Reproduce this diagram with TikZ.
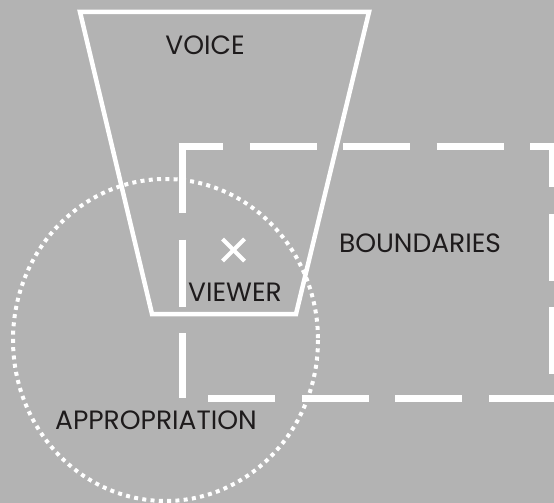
\documentclass[tikz,border=0pt]{standalone}
\usepackage{fontspec}
\setmainfont{Poppins}
\usepackage{tikz}

\definecolor{bggray}{RGB}{179,179,179}
\definecolor{inkdark}{RGB}{30,27,28}

\begin{document}
\begin{tikzpicture}[x=1pt,y=-1pt,
    lbl/.style={text=inkdark,inner sep=0pt,font=\fontsize{26.5}{30}\selectfont},
    edge/.style={white,line width=7pt,dash pattern=on 67pt off 26.5pt}]
            \fill[bggray] (0,0) rectangle (554,503);
            \useasboundingbox (0,0) rectangle (554,503);
            % boundaries box, one side at a time
            \draw[edge,dash phase=22.5pt] (178.5,146) -- (555.5,146);
            \draw[edge,dash phase=22.5pt] (552,142.5) -- (552,398);
            \draw[edge] (555.5,398) -- (182,398);
            \draw[edge] (182,146) -- (182,398);
            % voice
            \draw[white,line width=4.5pt,line join=miter] (80,12) -- (369,12) -- (296,314) -- (152,314) -- cycle;
            % appropriation
            \draw[white,line width=4pt,dash pattern=on 4pt off 4.3pt] (165.5,340) ellipse [x radius=152.5, y radius=161];
            % viewer mark
            \coordinate (mark) at (233.5,250);
            \draw[white,line width=4pt] (mark) +(-11,-11) -- +(11,11);
            \draw[white,line width=4pt] (mark) +(-11,11) -- +(11,-11);
            \node[lbl] (voice) at (205,45) {VOICE};
            \node[lbl] (viewer) at (235,292) {VIEWER};
            \node[lbl] (bound) at (420,243) {BOUNDARIES};
            \node[lbl] (approp) at (156,420) {APPROPRIATION};
        \end{tikzpicture}
\end{document}
